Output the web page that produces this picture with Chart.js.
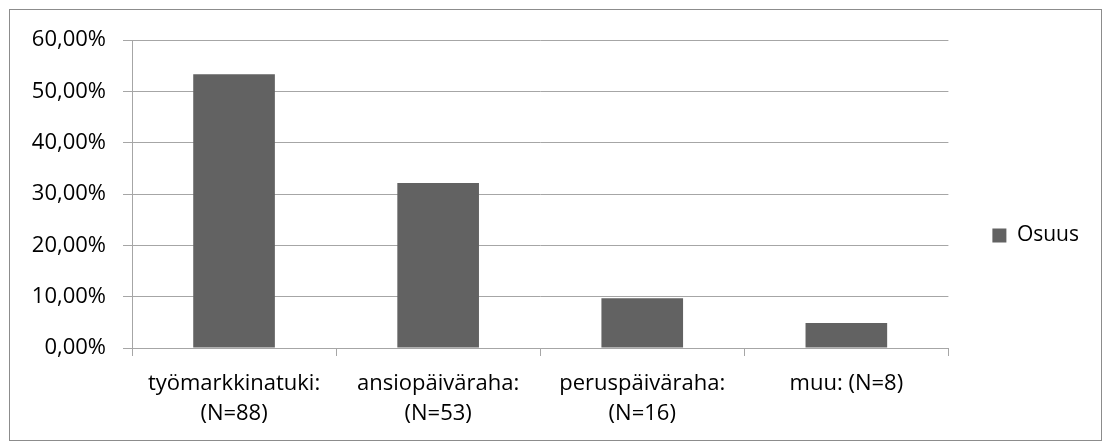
<!DOCTYPE html>
<html>
<head>
<meta charset="utf-8">
<script src="https://cdn.jsdelivr.net/npm/chart.js@4.4.0/dist/chart.umd.min.js"></script>
<style>
  body { margin: 0; background: #fff; }
  #frame { position: absolute; left: 9px; top: 9px; width: 1091px; height: 430px; border: 1px solid #8c8c8c; }
  #myChart { position: absolute; left: 0; top: 0; }
</style>
</head>
<body>
<div id="frame"></div>
<canvas id="myChart" width="1102" height="441"></canvas>
<script>
var categories = [["työmarkkinatuki:", "(N=88)"], ["ansiopäiväraha:", "(N=53)"], ["peruspäiväraha:", "(N=16)"], "muu: (N=8)"];
var osuus = [53.33, 32.12, 9.70, 4.85];
var yTicks = [0, 10, 20, 30, 40, 50, 60];
var seriesName = "Osuus";

var fontFamily = "'Open Sans', 'Noto Sans', sans-serif";
var gray = "#a6a6a6";

new Chart("myChart", {
  type: "bar",
  data: {
    labels: categories,
    datasets: [{
      label: seriesName,
      backgroundColor: "#626262",
      data: osuus,
      barPercentage: 0.4,
      categoryPercentage: 1.0
    }]
  },
  options: {
    responsive: false,
    animation: false,
    layout: { padding: { left: 20, top: 40, right: 13, bottom: 10 } },
    plugins: {
      tooltip: { enabled: false },
      legend: {
        position: "right",
        labels: {
          boxWidth: 14,
          boxHeight: 14,
          padding: 44,
          color: "#000",
          font: { family: fontFamily, size: 21 }
        }
      }
    },
    scales: {
      y: {
        min: yTicks[0],
        max: yTicks[yTicks.length - 1],
        afterBuildTicks: function (axis) {
          axis.ticks = yTicks.map(function (v) { return { value: v }; });
        },
        afterFit: function (axis) { axis.width = 112; },
        border: { color: gray, width: 1 },
        grid: { color: gray, tickLength: 9, lineWidth: 1 },
        ticks: {
          color: "#000",
          padding: 17,
          font: { family: fontFamily, size: 22 },
          callback: function (v) { return v.toFixed(2).replace(".", ",") + "%"; }
        }
      },
      x: {
        border: { color: gray, width: 1 },
        grid: { offset: true, drawOnChartArea: false, color: gray, tickLength: 8 },
        afterFit: function (axis) { axis.height = 83; },
        ticks: {
          color: "#000",
          padding: 12,
          maxRotation: 0,
          autoSkip: false,
          font: { family: fontFamily, size: 22, lineHeight: 1.4 }
        }
      }
    }
  }
});
</script>
</body>
</html>
